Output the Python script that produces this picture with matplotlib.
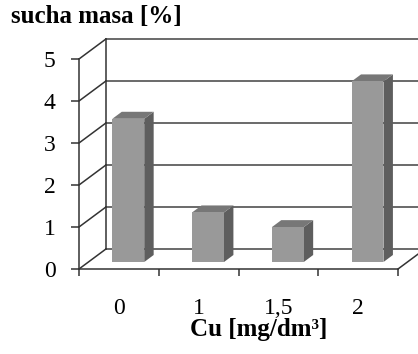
import numpy as np
import matplotlib
matplotlib.use("Agg")
import matplotlib.pyplot as plt

plt.rcParams['font.family'] = ['Liberation Serif', 'DejaVu Serif']

# data
categories = ['0', '1', '1,5', '2']
dry_mass = [3.41, 1.18, 0.83, 4.30]
y_ticks = [0, 1, 2, 3, 4, 5]

# oblique "3D" look like the excel chart
dx, dy = 0.3375, 0.476      # depth offset of back wall, in data units
d_front, d_back = 0.35, 0.70  # bar depth position (fraction of wall depth)
half_w = 0.2

fig = plt.figure(figsize=(4.18, 3.54), dpi=100)
ax = fig.add_axes([79 / 418, 85 / 354, 319 / 418, 210 / 354])
ax.set_xlim(0, len(categories))
ax.set_ylim(0, 5)

frame = '#333333'
grid_c = '#696969'

# back wall gridlines and side wall diagonals
for v in y_ticks:
    ax.plot([dx, len(categories) + dx], [v + dy, v + dy], color=grid_c, lw=1.4,
            zorder=1, clip_on=False)
    ax.plot([0, dx], [v, v + dy], color=frame, lw=1.1, zorder=1, clip_on=False)
ax.plot([dx, dx], [dy, 5 + dy], color=frame, lw=1.1, zorder=1, clip_on=False)
ax.plot([len(categories), len(categories) + dx], [0, dy], color=frame, lw=1.1,
        zorder=1, clip_on=False)
ax.plot([len(categories) + dx] * 2, [dy, 5 + dy], color=frame, lw=1.1,
        zorder=1, clip_on=False)

# bars
for i, v in enumerate(dry_mass):
    c = i + 0.5
    xl = c - half_w
    xr = c + half_w
    fx, fy = d_front * dx, d_front * dy
    bx, by = d_back * dx, d_back * dy
    # side
    ax.fill([xr + fx, xr + bx, xr + bx, xr + fx],
            [fy, by, v + by, v + fy], color='#5e5e5e', lw=0, zorder=3)
    # top
    ax.fill([xl + fx, xr + fx, xr + bx, xl + bx],
            [v + fy, v + fy, v + by, v + by], color='#777777', lw=0, zorder=3)
    # front
    ax.fill([xl + fx, xr + fx, xr + fx, xl + fx],
            [fy, fy, v + fy, v + fy], color='#999999', lw=0, zorder=4)

for s in ['top', 'right']:
    ax.spines[s].set_visible(False)
for s in ['left', 'bottom']:
    ax.spines[s].set_color(frame)
    ax.spines[s].set_linewidth(1.1)

ax.set_yticks(y_ticks)
ax.set_yticklabels([str(t) for t in y_ticks])
ax.tick_params(axis='y', length=6, width=1.1, color=frame, pad=11, labelsize=17)

ax.set_xticks(np.arange(len(categories) + 1))
ax.set_xticklabels([])
ax.set_xticks(np.arange(len(categories)) + 0.5, minor=True)
ax.set_xticklabels(categories, minor=True)
ax.tick_params(axis='x', which='major', length=5, width=1.1, color=frame)
ax.tick_params(axis='x', which='minor', length=0, pad=21, labelsize=17)

ax.set_xlabel('Cu [mg/dm³]', fontsize=18, fontweight='bold', va='center')
ax.xaxis.set_label_coords((259 - 79) / 319, -0.29)

fig.text(11 / 418, 1 - 17 / 354, 'sucha masa [%]', fontsize=18,
         fontweight='bold', va='center', ha='left')

fig.savefig('out.png', dpi=100)
